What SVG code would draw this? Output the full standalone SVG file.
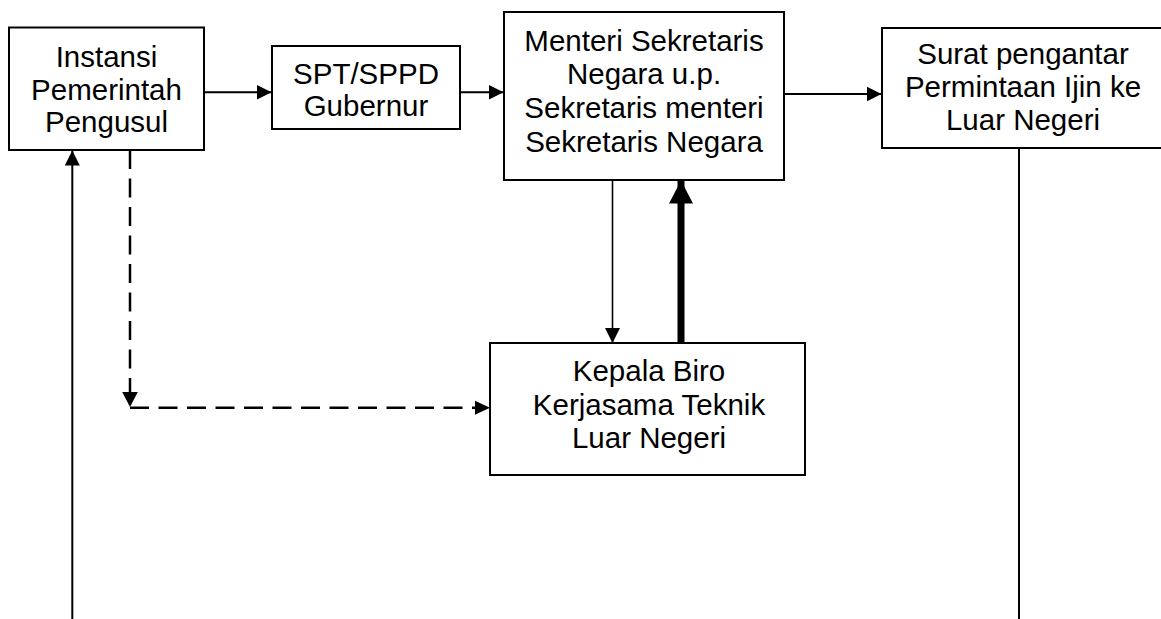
<svg xmlns="http://www.w3.org/2000/svg" width="1161" height="619" viewBox="0 0 1161 619">
<style>
.box{fill:#fff;stroke:#000;stroke-width:2}
.t{font-family:"Liberation Sans",Arial,sans-serif;font-size:29.5px;fill:#000;text-anchor:middle}
.ln{fill:none;stroke:#000;stroke-width:2}
.thin{fill:none;stroke:#000;stroke-width:1.6}
.thick{fill:none;stroke:#000;stroke-width:7}
.dash{fill:none;stroke:#000;stroke-width:2.5;stroke-dasharray:19 9.5}
</style>
<defs>
<marker id="ah" markerUnits="userSpaceOnUse" markerWidth="16" markerHeight="16" refX="15" refY="7.5" orient="auto">
<path d="M0,0 L15,7.5 L0,15 z" fill="#000"/>
</marker>
<marker id="ahb" markerUnits="userSpaceOnUse" markerWidth="25" markerHeight="25" refX="23" refY="12" orient="auto">
<path d="M0,0 L23,12 L0,24 z" fill="#000"/>
</marker>
</defs>
<rect width="1161" height="619" fill="#fff"/>
<g id="connectors">
<path class="ln" d="M204,92.3 H271.5" marker-end="url(#ah)"/>
<path class="ln" d="M460,92.3 H503.5" marker-end="url(#ah)"/>
<path class="ln" d="M784,94 H881.5" marker-end="url(#ah)"/>
<path class="ln" d="M1019,148 V619"/>
<path class="ln" d="M72.3,619 V150.5" marker-end="url(#ah)"/>
<path class="thin" d="M612.5,180 V343" marker-end="url(#ah)"/>
<path class="thick" d="M681,343 V180.5" marker-end="url(#ahb)"/>
<path class="dash" d="M130,150 V395"/>
<path d="M122.2,392 L137.8,392 L130,407 z" fill="#000"/>
<path class="dash" d="M130,407.7 H476"/>
<path d="M475,400.7 L490,407.7 L475,414.7 z" fill="#000"/>
</g>
<g id="instansi">
<rect class="box" x="9" y="27.5" width="195" height="122.5"/>
<text class="t" x="106.5" y="67">Instansi</text>
<text class="t" x="106.5" y="99.5">Pemerintah</text>
<text class="t" x="106.5" y="132">Pengusul</text>
</g>
<g id="spt">
<rect class="box" x="272" y="46" width="188" height="83"/>
<text class="t" x="366" y="83.5">SPT/SPPD</text>
<text class="t" x="366" y="116">Gubernur</text>
</g>
<g id="menteri">
<rect class="box" x="504" y="12" width="280" height="168"/>
<text class="t" x="644" y="50.7">Menteri Sekretaris</text>
<text class="t" x="644" y="84.4">Negara u.p.</text>
<text class="t" x="644" y="118">Sekretaris menteri</text>
<text class="t" x="644" y="151.7">Sekretaris Negara</text>
</g>
<g id="surat">
<rect class="box" x="882" y="28" width="282" height="120"/>
<text class="t" x="1023" y="64">Surat pengantar</text>
<text class="t" x="1023" y="97">Permintaan Ijin ke</text>
<text class="t" x="1023" y="130">Luar Negeri</text>
</g>
<g id="kepala">
<rect class="box" x="490" y="343" width="315" height="132"/>
<text class="t" x="649" y="381">Kepala Biro</text>
<text class="t" x="649" y="414.6">Kerjasama Teknik</text>
<text class="t" x="649" y="448">Luar Negeri</text>
</g>
</svg>
